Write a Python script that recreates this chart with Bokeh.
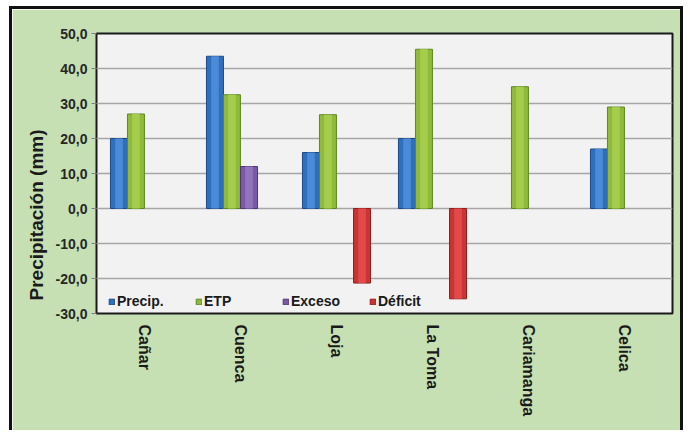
import math
from bokeh.plotting import figure
from bokeh.models import (FactorRange, Range1d, ColumnDataSource, CustomJSTickFormatter,
                          Legend, LegendItem, Title)
from bokeh.transform import dodge
from bokeh.embed import file_html
from bokeh.resources import INLINE

nan = float("nan")

stations = ["Cañar", "Cuenca", "Loja", "La Toma", "Cariamanga", "Celica"]
precip = [20.0, 43.5, 16.0, 20.0, nan, 17.0]
etp = [27.0, 32.5, 26.8, 45.5, 34.8, 29.0]
exceso = [nan, 12.0, nan, nan, nan, nan]
deficit = [nan, nan, -21.3, -25.8, nan, nan]
series_names = ["Precip.", "ETP", "Exceso", "Déficit"]
y_ticks = [-30, -20, -10, 0, 10, 20, 30, 40, 50]
y_title = "Precipitación (mm)"

FONT = "Liberation Sans"

src = ColumnDataSource(dict(x=stations, precip=precip, etp=etp, exceso=exceso, deficit=deficit))

p = figure(width=674, height=424, x_range=FactorRange(*stations),
           y_range=Range1d(-30, 50), output_backend="svg", toolbar_location=None,
           min_border_left=84, min_border_right=14, min_border_top=24, min_border_bottom=120)
p.margin = (6, 0, 0, 9)
p.styles = {"border-top": "3px solid #111", "border-left": "3px solid #111",
            "border-right": "3px solid #111"}

p.border_fill_color = "#c6e0b4"
p.background_fill_color = "#f2f2f2"
p.outline_line_color = "#1a1a1a"
p.outline_line_width = 2

p.xgrid.grid_line_color = None
p.ygrid.grid_line_color = "#a6a6a6"
p.ygrid.grid_line_width = 1.5

p.yaxis.ticker = y_ticks
p.yaxis.formatter = CustomJSTickFormatter(code="return tick.toFixed(1).replace('.', ',');")
p.yaxis.major_label_text_font = FONT
p.yaxis.major_label_text_font_style = "bold"
p.yaxis.major_label_text_font_size = "14px"
p.yaxis.major_label_text_color = "#262626"
p.yaxis.axis_line_color = None
p.yaxis.major_tick_line_color = "#808080"
p.yaxis.major_tick_out = 5
p.yaxis.major_tick_in = 0
p.yaxis.minor_tick_line_color = None
p.yaxis.major_label_standoff = 4

p.xaxis.axis_line_color = None
p.xaxis.major_tick_line_color = None
p.xaxis.major_label_orientation = "vertical"
p.xaxis.major_label_text_font = FONT
p.xaxis.major_label_text_font_style = "bold"
p.xaxis.major_label_text_font_size = "16px"
p.xaxis.major_label_text_color = "#1a1a1a"
p.xaxis.major_label_standoff = 5

ytitle = Title(text=y_title, align="left", vertical_align="top", offset=13, standoff=8,
               text_font=FONT, text_font_style="bold", text_font_size="19px",
               text_color="#1a1a1a")
p.add_layout(ytitle, "left")

W = 0.177
offsets = [-0.266, -0.089, 0.089, 0.266]
cols = ["precip", "etp", "exceso", "deficit"]
main_colors = ["#2f6fbf", "#8fba3a", "#7a5aa6", "#cc3333"]
edge_colors = ["#1d4a85", "#5f8a1f", "#4f3878", "#8f1f1f"]
hi_colors = ["#4a8ad6", "#a6cc4e", "#9274bd", "#e04a4a"]

renderers = []
for col, off, mc, ec, hc in zip(cols, offsets, main_colors, edge_colors, hi_colors):
    r = p.vbar(x=dodge("x", off, range=p.x_range), top=col, bottom=0, width=W, source=src,
               fill_color=mc, line_color=ec, line_width=1)
    p.vbar(x=dodge("x", off, range=p.x_range), top=col, bottom=0, width=W * 0.45, source=src,
           fill_color=hc, line_color=None)
    renderers.append(r)

legend = Legend(items=[LegendItem(label=n, renderers=[r]) for n, r in zip(series_names, renderers)],
                orientation="horizontal", location=(9, 1))
legend.background_fill_alpha = 0
legend.border_line_alpha = 0
legend.label_text_font = FONT
legend.label_text_font_style = "bold"
legend.label_text_font_size = "14px"
legend.label_text_color = "#1a1a1a"
legend.glyph_width = 7
legend.glyph_height = 7
legend.label_standoff = 2
legend.label_width = 50
legend.spacing = 28
legend.padding = 3
legend.margin = 0
p.add_layout(legend, "center")

open("out.html", "w").write(file_html(p, INLINE))
